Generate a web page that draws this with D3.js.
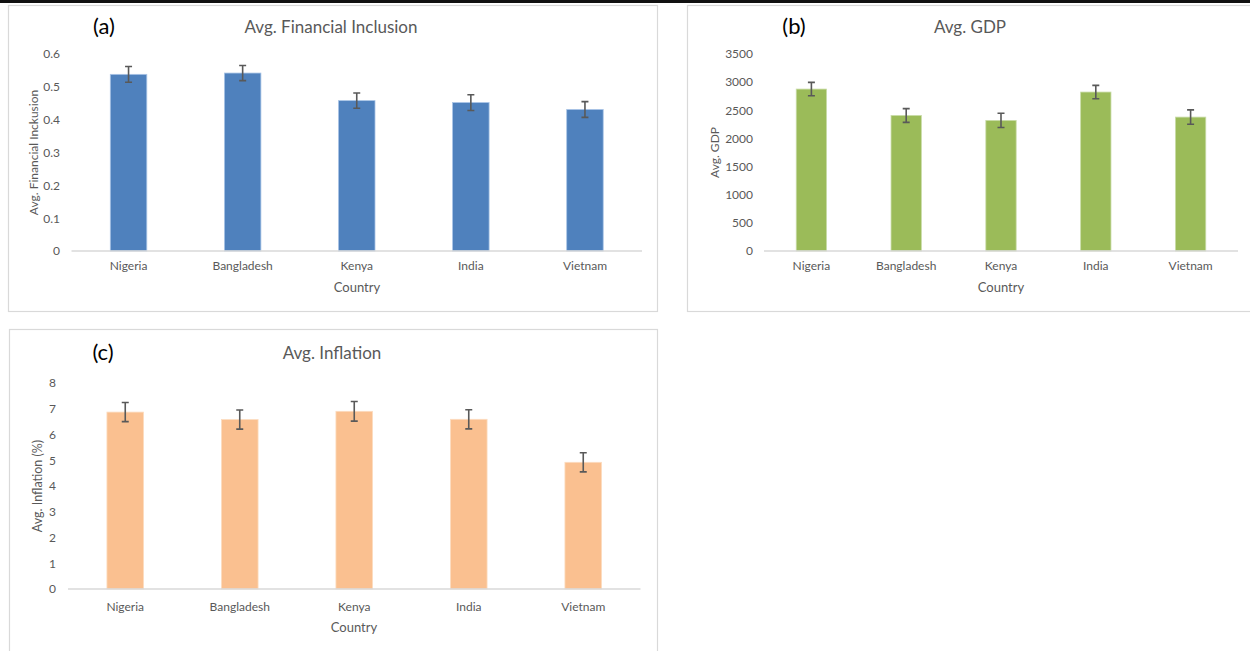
<!DOCTYPE html>
<html>
<head>
<meta charset="utf-8">
<script src="https://cdn.jsdelivr.net/npm/d3@7"></script>
<style>
  html, body { margin: 0; padding: 0; background: #fff; }
  svg { display: block; font-family: Lato, "Open Sans", sans-serif; }
</style>
</head>
<body>
<svg id="chart" width="1250" height="651"></svg>
<script>
// ---------- data ----------
const countries = ["Nigeria", "Bangladesh", "Kenya", "India", "Vietnam"];

const finInclusion    = [0.538, 0.542, 0.458, 0.452, 0.431];
const finInclusionErr = [0.024, 0.023, 0.023, 0.024, 0.024];
const finTicks        = [0, 0.1, 0.2, 0.3, 0.4, 0.5, 0.6];

const gdp    = [2877, 2408, 2320, 2824, 2379];
const gdpErr = [118, 122, 127, 118, 128];
const gdpTicks = [0, 500, 1000, 1500, 2000, 2500, 3000, 3500];

const inflation    = [6.87, 6.58, 6.90, 6.59, 4.92];
const inflationErr = [0.37, 0.37, 0.38, 0.37, 0.37];
const inflationTicks = [0, 1, 2, 3, 4, 5, 6, 7, 8];

// ---------- panels ----------
const panels = [
  { tag: "(a)", title: "Avg. Financial Inclusion", yTitle: "Avg. Financial Inckusion",
    values: finInclusion, errs: finInclusionErr, ticks: finTicks, color: "#4F81BD", edge: "#A9C4E6",
    box: [8, 5, 657, 311], x: [71.5, 642], y: [251, 54], yMax: 0.6, yTitleSize: 12,
    tickRight: 60, yTitleX: 34, tagX: 104, titleX: 331, titleY: 33, catY: 270, countryY: 291.5, countryX: 357 },
  { tag: "(b)", title: "Avg. GDP", yTitle: "Avg. GDP",
    values: gdp, errs: gdpErr, ticks: gdpTicks, color: "#9BBB59", edge: "#C9DCA8",
    box: [687, 5, 1262, 311], x: [764, 1238], y: [251, 54], yMax: 3500, yTitleSize: 12,
    tickRight: 753, yTitleX: 715, tagX: 794, titleX: 970, titleY: 33, catY: 270, countryY: 291.5, countryX: 1001 },
  { tag: "(c)", title: "Avg. Inflation", yTitle: "Avg. Inflation (%)",
    values: inflation, errs: inflationErr, ticks: inflationTicks, color: "#FAC090", edge: "#FCDCC0",
    box: [9, 329, 657, 700], x: [68, 640.5], y: [589, 383], yMax: 8, yTitleSize: 12.5,
    tickRight: 56, yTitleX: 38, tagX: 103, titleX: 332, titleY: 359, catY: 611, countryY: 632, countryX: 354 }
];

const svg = d3.select("#chart");

// top black rule
svg.append("rect").attr("x", 0).attr("y", 0).attr("width", 1250).attr("height", 3).attr("fill", "#111");

panels.forEach(p => {
  const g = svg.append("g");
  const [bx0, by0, bx1, by1] = p.box;
  g.append("rect")
    .attr("x", bx0 + 0.5).attr("y", by0 + 0.5)
    .attr("width", bx1 - bx0).attr("height", by1 - by0)
    .attr("fill", "#fff").attr("stroke", "#D9D9D9").attr("stroke-width", 1.2);

  const x = d3.scaleBand().domain(countries).range(p.x).paddingInner(0.68).paddingOuter(0.34);
  const y = d3.scaleLinear().domain([0, p.yMax]).range(p.y);

  // y axis (labels only)
  const yAxis = d3.axisLeft(y).tickValues(p.ticks).tickSize(0).tickPadding(0)
    .tickFormat(d => d3.format("~g")(d));
  const ya = g.append("g").attr("transform", `translate(${p.tickRight},0)`).call(yAxis);
  ya.select(".domain").remove();
  ya.selectAll("text").attr("fill", "#595959").attr("font-size", 12).attr("font-family", "Lato, sans-serif");

  // bars
  g.selectAll(".bar").data(countries).enter().append("rect")
    .attr("x", d => x(d)).attr("width", x.bandwidth())
    .attr("y", (d, i) => y(p.values[i]))
    .attr("height", (d, i) => y(0) - y(p.values[i]))
    .attr("fill", p.color).attr("stroke", p.edge).attr("stroke-width", 0.8);

  // x axis
  const xAxis = d3.axisBottom(x).tickSize(0).tickPadding(0);
  const xa = g.append("g").attr("transform", `translate(0,${p.y[0]})`).call(xAxis);
  xa.select(".domain").attr("stroke", "#D9D9D9").attr("stroke-width", 1.3)
    .attr("d", `M${p.x[0]},0H${p.x[1]}`);
  xa.selectAll("text").attr("fill", "#595959").attr("font-size", 12)
    .attr("font-family", "Lato, sans-serif")
    .attr("dy", null).attr("y", p.catY - p.y[0]);

  // error bars
  const cap = 3.5;
  countries.forEach((c, i) => {
    const cx = x(c) + x.bandwidth() / 2;
    const hi = y(p.values[i] + p.errs[i]);
    const lo = y(p.values[i] - p.errs[i]);
    const path = `M${cx},${hi}V${lo}M${cx - cap},${hi}H${cx + cap}M${cx - cap},${lo}H${cx + cap}`;
    g.append("path").attr("d", path).attr("stroke", "#595959").attr("stroke-width", 1.6).attr("fill", "none");
  });

  // titles
  g.append("text").attr("x", p.titleX).attr("y", p.titleY).attr("text-anchor", "middle")
    .attr("fill", "#595959").attr("font-size", 17).text(p.title);
  g.append("text").attr("x", p.tagX).attr("y", p.titleY + 1).attr("text-anchor", "middle")
    .attr("fill", "#000").attr("font-size", 22).text(p.tag);
  g.append("text").attr("x", p.countryX).attr("y", p.countryY).attr("text-anchor", "middle")
    .attr("fill", "#595959").attr("font-size", 13).text("Country");
  const ym = (p.y[0] + p.y[1]) / 2;
  g.append("text").attr("transform", `translate(${p.yTitleX + 4},${ym}) rotate(-90)`)
    .attr("text-anchor", "middle").attr("fill", "#595959").attr("font-size", p.yTitleSize).text(p.yTitle);
});
</script>
</body>
</html>
